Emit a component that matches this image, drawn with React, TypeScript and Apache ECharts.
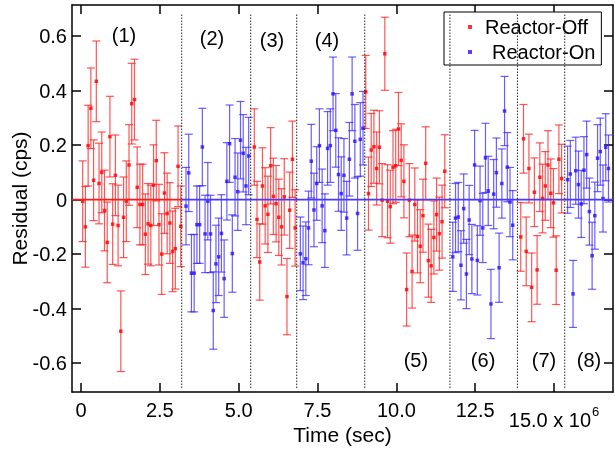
import React, { useEffect, useRef } from "react";
import * as echarts from "echarts";

// Time unit: 10^6 s. One point per day.
const DAY = 0.0864;
const X_MIN = -0.285;
const X_MAX = 16.87;
const Y_MIN = -0.706;
const Y_MAX = 0.714;

const xTicks = [0, 2.5, 5, 7.5, 10, 12.5, 15];
const yTicks = [-0.6, -0.4, -0.2, 0, 0.2, 0.4, 0.6];

// first-point time of each segment (10^6 s)
const segStarts = [0.054, 3.33, 5.495, 6.956, 9.03, 11.79, 13.945, 15.43];
const segReactorOn = [false, true, false, true, false, true, false, true];
const segErrors = [0.148, 0.142, 0.14, 0.135, 0.134, 0.127, 0.126, 0.123];

const seg1 = [-0.006, -0.1, 0.198, 0.335, 0.071, 0.434, 0.059, 0.1, -0.04, -0.157, 0.231, -0.09, 0.089, -0.095, -0.483, -0.065, -0.006, 0.127, 0.352, 0.367, 0.045, -0.018, -0.018, -0.127, -0.089, -0.095, 0.053, 0.143, -0.092, -0.2, 0.024, -0.051, -0.086, -0.19, -0.18, 0.122, -0.098];
const seg2 = [-0.024, 0.098, -0.27, -0.27, -0.092, -0.092, 0.193, -0.126, -0.006, -0.126, -0.407, -0.236, -0.21, -0.124, -0.29, 0.067, 0.205, -0.198, 0.082, 0.029, 0.218, 0.17, 0.05, 0.16];
const seg3 = [0.193, -0.073, -0.229, 0.05, -0.023, -0.054, 0.124, 0.012, -0.015, -0.065, -0.1, 0.01, -0.356, -0.039, 0.148, -0.104];
const seg4 = [-0.199, -0.232, -0.217, -0.104, 0.141, -0.038, 0.059, 0.198, -0.023, -0.114, 0.188, 0.198, 0.388, 0.254, 0.092, 0.022, 0.089, -0.068, 0.148, 0.388, 0.214, -0.051, 0.221, 0.262];
const seg5 = [0.395, 0.022, 0.182, 0.194, 0.114, 0.192, -0.002, 0.535, -0.006, -0.026, 0.119, 0.124, 0.259, 0.144, 0.067, -0.33, -0.002, -0.264, -0.018, -0.135, -0.171, -0.059, 0.133, -0.224, -0.243, -0.139, -0.055, -0.125, -0.081, 0.104];
const seg6 = [-0.21, -0.068, -0.064, -0.241, -0.033, -0.273, -0.075, -0.218, 0.127, -0.223, -0.004, -0.104, 0.153, 0.032, -0.383, 0.02, 0.099, -0.25, 0.059, 0.325, 0.119, -0.009, -0.094];
const seg7 = [-0.137, 0.223, -0.19, 0.114, -0.322, 0.027, -0.258, 0.082, 0.004, 0.05, 0.127, 0.023, -0.012, -0.259, 0.148, 0.077];
const seg8 = [0.073, 0.094, -0.346, 0.106, 0.055, -0.016, 0.108, 0.165, -0.044, -0.206, -0.059, 0.152, 0.176, 0.004, 0.192, 0.114];
const segValues = [seg1, seg2, seg3, seg4, seg5, seg6, seg7, seg8];

const boundaries = [3.194, 5.382, 6.841, 8.998, 11.7, 13.84, 15.34];
const boundaryTop = 0.679;
const boundaryBottom = -0.692;

const segLabels = ["(1)", "(2)", "(3)", "(4)", "(5)", "(6)", "(7)", "(8)"];
const segLabelX = [1.364, 4.155, 6.058, 7.8, 10.62, 12.75, 14.68, 16.11];
const segLabelY = [0.604, 0.593, 0.587, 0.587, -0.589, -0.589, -0.589, -0.589];

const redZeroEnd = 3.194;

const FONT = "Liberation Sans, Arial, sans-serif";

function buildPoints(on: boolean) {
  const pts: number[][] = [];
  segValues.forEach((vals, s) => {
    if (segReactorOn[s] !== on) return;
    vals.forEach((v, i) => {
      pts.push([segStarts[s] + i * DAY, v, segErrors[s]]);
    });
  });
  return pts;
}

function errorBarRenderer(color: string) {
  return (params: any, api: any) => {
    const x = api.value(0);
    const y = api.value(1);
    const e = api.value(2);
    const top = api.coord([x, y + e]);
    const bot = api.coord([x, y - e]);
    const hw = 4;
    const style = { stroke: color, lineWidth: 1.2 };
    return {
      type: "group",
      children: [
        { type: "line", shape: { x1: top[0], y1: top[1], x2: bot[0], y2: bot[1] }, style },
        { type: "line", shape: { x1: top[0] - hw, y1: top[1], x2: top[0] + hw, y2: top[1] }, style },
        { type: "line", shape: { x1: bot[0] - hw, y1: bot[1], x2: bot[0] + hw, y2: bot[1] }, style },
      ],
    };
  };
}

export default function App() {
  const ref = useRef<HTMLDivElement>(null);
  useEffect(() => {
    document.body.style.margin = "0";
    if (!ref.current) return;
    const chart = echarts.init(ref.current, null, { renderer: "svg" });
    const offPts = buildPoints(false);
    const onPts = buildPoints(true);
    const axisLineStyle = { color: "#000", width: 1.5 };
    const option: any = {
      animation: false,
      textStyle: { fontFamily: FONT },
      grid: { left: 72, right: 2, top: 5, bottom: 57, containLabel: false, outerBoundsMode: "none" },
      legend: {
        data: ["Reactor-Off", "Reactor-On"],
        orient: "vertical",
        left: 444,
        top: 12,
        itemWidth: 20,
        itemHeight: 4,
        itemGap: 5,
        icon: "path://M0 0h1v1h-1z",
        padding: [5, 6, 3, 24],
        borderColor: "#000",
        borderWidth: 1,
        backgroundColor: "#fff",
        formatter: (name: string) => (name === "Reactor-On" ? "{on|" + name + "}" : name),
        textStyle: {
          fontSize: 20,
          color: "#000",
          fontFamily: FONT,
          rich: { on: { fontSize: 20, color: "#000", fontFamily: FONT, padding: [0, 0, 0, 7] } },
        },
      },
      xAxis: [
        {
          type: "value",
          min: X_MIN,
          max: X_MAX,
          position: "bottom",
          name: "Time (sec)",
          nameLocation: "middle",
          nameGap: 32,
          nameMoveOverlap: false,
          nameTextStyle: { fontSize: 21, color: "#000", fontFamily: FONT },
          axisLine: { show: true, onZero: false, lineStyle: axisLineStyle },
          axisTick: { show: true, inside: true, length: 9, customValues: xTicks, lineStyle: axisLineStyle },
          axisLabel: {
            show: true,
            customValues: xTicks,
            margin: 8,
            fontSize: 20,
            color: "#000",
            fontFamily: FONT,
            formatter: (v: number) => (v === 15 ? "{b|15.0 x 10}{s|6}" : v === 0 ? "0" : v.toFixed(1)),
            rich: {
              b: { fontSize: 20, color: "#000", fontFamily: FONT, padding: [10, 0, 0, 0] },
              s: { fontSize: 13, color: "#000", fontFamily: FONT, padding: [0, 0, 8, 1] },
            },
          },
          splitLine: { show: false },
        },
        {
          type: "value",
          min: X_MIN,
          max: X_MAX,
          position: "top",
          axisLine: { show: true, onZero: false, lineStyle: axisLineStyle },
          axisTick: { show: true, inside: true, length: 9, customValues: xTicks, lineStyle: axisLineStyle },
          axisLabel: { show: false },
          splitLine: { show: false },
        },
      ],
      yAxis: [
        {
          type: "value",
          min: Y_MIN,
          max: Y_MAX,
          position: "left",
          name: "Residual (cps)",
          nameLocation: "middle",
          nameGap: 42,
          nameMoveOverlap: false,
          nameTextStyle: { fontSize: 21, color: "#000", fontFamily: FONT },
          axisLine: { show: true, onZero: false, lineStyle: axisLineStyle },
          axisTick: { show: true, inside: true, length: 9, customValues: yTicks, lineStyle: axisLineStyle },
          axisLabel: {
            show: true,
            customValues: yTicks,
            margin: 5,
            fontSize: 20,
            color: "#000",
            fontFamily: FONT,
            formatter: (v: number) => (Math.abs(v) < 1e-9 ? "0" : v.toFixed(1)),
          },
          splitLine: { show: false },
        },
        {
          type: "value",
          min: Y_MIN,
          max: Y_MAX,
          position: "right",
          axisLine: { show: true, onZero: false, lineStyle: axisLineStyle },
          axisTick: { show: true, inside: true, length: 9, customValues: yTicks, lineStyle: axisLineStyle },
          axisLabel: { show: false },
          splitLine: { show: false },
        },
      ],
      series: [
        {
          name: "errOff",
          type: "custom",
          renderItem: errorBarRenderer("rgba(255,20,20,0.72)"),
          data: offPts,
          z: 2,
        },
        {
          name: "errOn",
          type: "custom",
          renderItem: errorBarRenderer("rgba(50,30,255,0.72)"),
          data: onPts,
          z: 2,
        },
        {
          name: "Reactor-Off",
          type: "scatter",
          symbol: "rect",
          symbolSize: 3.5,
          itemStyle: { color: "#ff0000" },
          data: offPts.map((p) => [p[0], p[1]]),
          z: 3,
        },
        {
          name: "Reactor-On",
          type: "scatter",
          symbol: "rect",
          symbolSize: 3.5,
          itemStyle: { color: "#2a10ff" },
          data: onPts.map((p) => [p[0], p[1]]),
          z: 3,
        },
        {
          name: "zeroOff",
          type: "line",
          symbol: "none",
          lineStyle: { color: "#ff1a1a", width: 1.6 },
          data: [
            [X_MIN, 0],
            [redZeroEnd, 0],
          ],
          z: 4,
        },
        {
          name: "zeroOn",
          type: "line",
          symbol: "none",
          lineStyle: { color: "#4a38ff", width: 1.6 },
          data: [
            [redZeroEnd, 0],
            [X_MAX, 0],
          ],
          z: 4,
        },
        {
          name: "boundaries",
          type: "custom",
          data: boundaries.map((b) => [b]),
          renderItem: (params: any, api: any) => {
            const x = api.value(0);
            const p1 = api.coord([x, boundaryTop]);
            const p2 = api.coord([x, boundaryBottom]);
            return {
              type: "line",
              shape: { x1: p1[0], y1: p1[1], x2: p2[0], y2: p2[1] },
              style: { stroke: "#222", lineWidth: 1, lineDash: [1.5, 1.5] },
            };
          },
          z: 5,
        },
        {
          name: "segLabels",
          type: "custom",
          data: segLabels.map((t, i) => [segLabelX[i], segLabelY[i], i]),
          renderItem: (params: any, api: any) => {
            const p = api.coord([api.value(0), api.value(1)]);
            const idx = api.value(2);
            return {
              type: "text",
              x: p[0],
              y: p[1],
              style: {
                text: segLabels[idx],
                fontSize: 20,
                fontFamily: FONT,
                fill: "#000",
                align: "center",
                verticalAlign: "middle",
              },
            };
          },
          z: 6,
        },
      ],
    };
    chart.setOption(option);
    return () => chart.dispose();
  }, []);
  return (
    <div
      ref={ref}
      style={{ position: "fixed", left: 0, top: 0, width: 615, height: 449 }}
    />
  );
}
